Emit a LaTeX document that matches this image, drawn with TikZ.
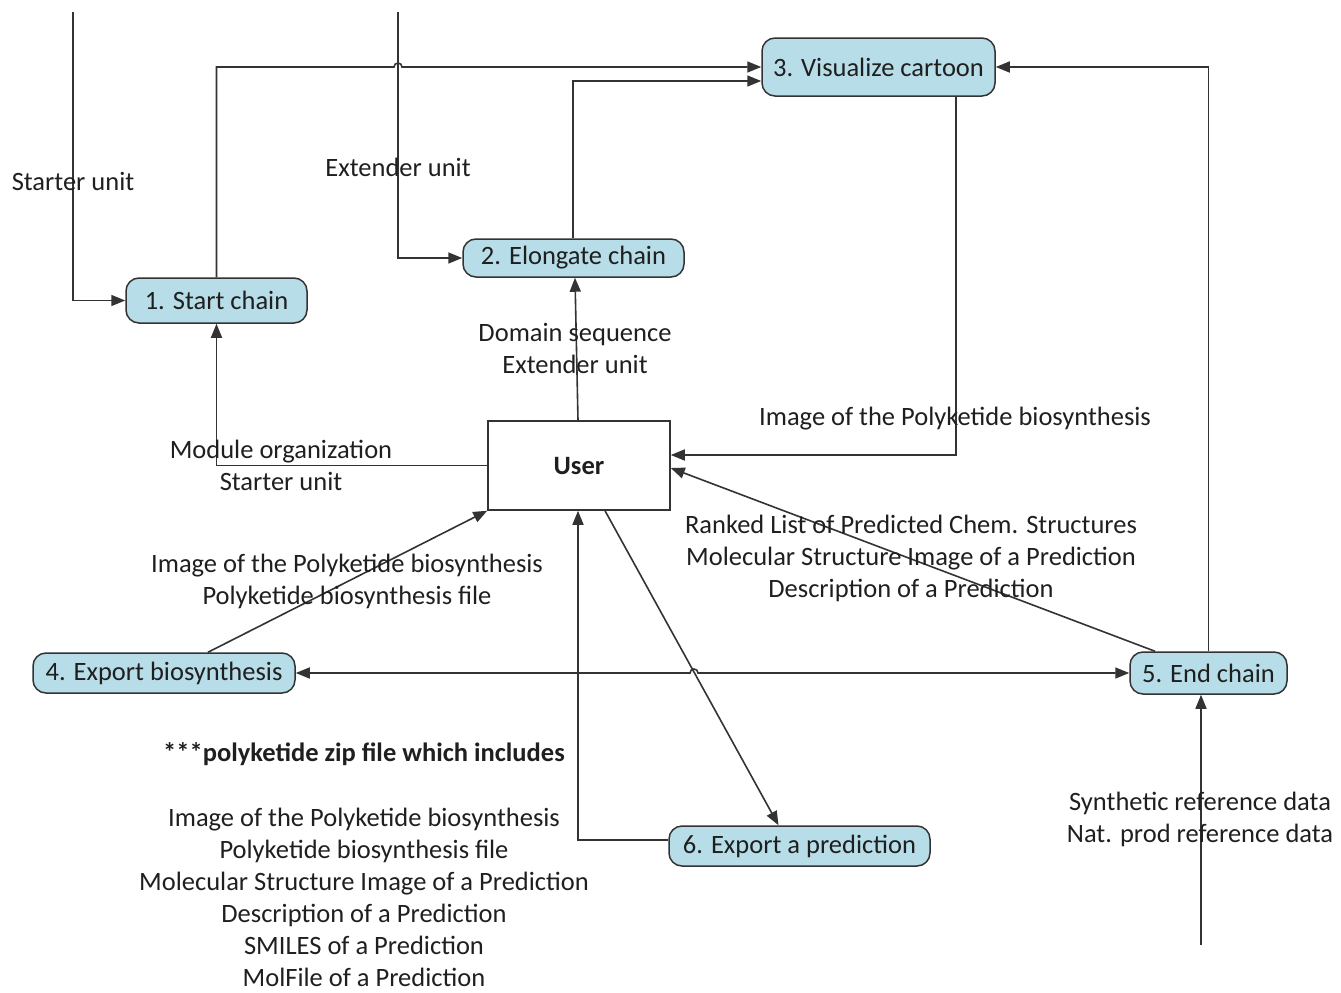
\documentclass[tikz,border=0pt]{standalone}
\usepackage{fontspec}
\setmainfont{Carlito}
\usetikzlibrary{arrows.meta,calc}
\definecolor{stepfill}{HTML}{B7DDE8}
\definecolor{edgegray}{HTML}{333333}
\definecolor{txt}{HTML}{1F1F1F}
\begin{document}
\begin{tikzpicture}[x=1pt,y=-1pt,
  every node/.style={font=\fontsize{26.5}{32}\selectfont, text=txt},
  stepbox/.style={draw=edgegray, line width=1.5pt, fill=stepfill, rounded corners=13pt, inner sep=0pt},
  userbox/.style={draw=edgegray, line width=1.5pt, fill=white, inner sep=0pt, minimum width=182pt, minimum height=89pt, font=\fontsize{26.5}{32}\selectfont\bfseries},
  lbl/.style={align=center, inner sep=0pt},
  conn/.style={draw=edgegray, line width=1.6pt, -{Triangle[length=14pt,width=11pt]}},
  both/.style={draw=edgegray, line width=1.6pt, {Triangle[length=14pt,width=11pt]}-{Triangle[length=14pt,width=11pt]}}
]
\useasboundingbox (0,0) rectangle (1341,993);

% process steps
\node[stepbox, minimum width=181pt, minimum height=45pt] (s1) at (216.5,300.5) {1. Start chain};
\node[stepbox, minimum width=221pt, minimum height=38pt] (s2) at (573.5,258) {2. Elongate chain};
\node[stepbox, minimum width=233pt, minimum height=58pt] (s3) at (878.5,67) {3. Visualize cartoon};
\node[stepbox, minimum width=262pt, minimum height=40pt] (s4) at (164,673) {4. Export biosynthesis};
\node[stepbox, minimum width=157pt, minimum height=42pt] (s5) at (1208.5,673) {5. End chain};
\node[stepbox, minimum width=261pt, minimum height=40pt] (s6) at (799.5,846) {6. Export a prediction};
\node[userbox] (u) at (579,465.5) {User};

% free ends of the incoming data lines
\coordinate (inStart) at (73,12);
\coordinate (inExt) at (398,12);
\coordinate (inRef) at (1201,945);

% inputs
\draw[conn] (inStart) |- (s1.west);
\draw[conn] (inExt) |- (s2.west);
\draw[conn] (inRef) -- ($(s5.south)+(-7.5,0)$);

% steps to the cartoon (line hops over the extender line)
\draw[conn] (s1.north) -- (s1.north |- s3.west) -- (394,67) arc[start angle=180,end angle=0,radius=4pt] -- (s3.west);
\draw[conn] ($(s2.north)+(-0.5,0)$) |- ($(s3.west)+(0,14)$);
\draw[conn] (s5.north) |- (s3.east);
\draw[conn] ($(s3.south)+(77.5,0)$) |- ($(u.east)+(0,-10.5)$);

% user requests
\draw[conn] ($(u.north)+(-1,0)$) -- ($(s2.south)+(1.5,0)$);
\draw[conn] (u.west) -| (s1.south);
\draw[conn] ($(s4.north)+(44,0)$) -- (u.south west);
\draw[conn] ($(s5.north)+(-53.5,0)$) -- ($(u.east)+(0,2.5)$);
\draw[conn] ($(s6.west)+(0,-6)$) -| ($(u.south)+(-1,0)$);
\draw[conn] ($(u.south)+(26,0)$) -- ($(s6.north)+(-21,0)$);

% export <-> end chain, hopping over the prediction line
\draw[both] (s4.east) -- (690,673) arc[start angle=180,end angle=0,radius=4pt] -- (s5.west);

% labels
\node[lbl] (tStart) at (73,181) {Starter unit};
\node[lbl] (tExt) at (398,167) {Extender unit};
\node[lbl] (tImg) at (955,419) {Image of the Polyketide biosynthesis};
\node[lbl] (tDom) at (575,348) {Domain sequence\\Extender unit};
\node[lbl] (tMod) at (281,465) {Module organization\\Starter unit};
\node[lbl] (tExp) at (347,581) {Image of the Polyketide biosynthesis\\Polyketide biosynthesis file};
\node[lbl] (tRank) at (911,558) {Ranked List of Predicted Chem. Structures\\Molecular Structure Image of a Prediction\\Description of a Prediction};
\node[lbl] (tRef) at (1200,819.5) {Synthetic reference data\\Nat. prod reference data};
\node[lbl, font=\fontsize{26.5}{32}\selectfont\bfseries] (tZip) at (364,754) {***polyketide zip file which includes};
\node[lbl] (tList) at (364,897) {Image of the Polyketide biosynthesis\\Polyketide biosynthesis file\\Molecular Structure Image of a Prediction\\Description of a Prediction\\SMILES of a Prediction\\MolFile of a Prediction};
\end{tikzpicture}
\end{document}
